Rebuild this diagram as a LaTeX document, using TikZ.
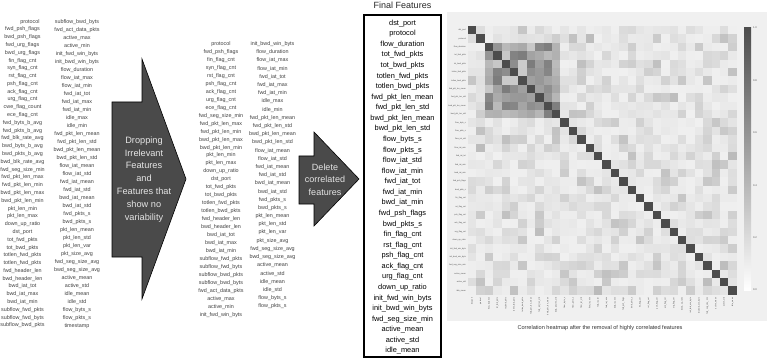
\documentclass[tikz,border=0pt]{standalone}
\usepackage{fontspec}
\setmainfont{Liberation Sans}

\tikzset{
  feat/.style={font=\fontsize{5.4}{6}\selectfont, text=black!75, inner sep=0pt},
  final/.style={font=\fontsize{7.4}{8}\selectfont, inner sep=0pt},
  arrowtxt/.style={font=\fontsize{9.2}{12.9}\selectfont, text=black!10, align=center, inner sep=0pt},
  bigarrow/.style={fill=black!71, draw=black, line width=0.6pt},
  hmlab/.style={font=\fontsize{2}{2.2}\selectfont, inner sep=0pt, text=black!70},
}

\def\finallist{dst\_port,protocol,flow\_duration,tot\_fwd\_pkts,tot\_bwd\_pkts,totlen\_fwd\_pkts,totlen\_bwd\_pkts,fwd\_pkt\_len\_mean,fwd\_pkt\_len\_std,bwd\_pkt\_len\_mean,bwd\_pkt\_len\_std,flow\_byts\_s,flow\_pkts\_s,flow\_iat\_std,flow\_iat\_min,fwd\_iat\_tot,fwd\_iat\_min,bwd\_iat\_min,fwd\_psh\_flags,bwd\_pkts\_s,fin\_flag\_cnt,rst\_flag\_cnt,psh\_flag\_cnt,ack\_flag\_cnt,urg\_flag\_cnt,down\_up\_ratio,init\_fwd\_win\_byts,init\_bwd\_win\_byts,fwd\_seg\_size\_min,active\_mean,active\_std,idle\_mean}

\begin{document}
\begin{tikzpicture}[x=1pt,y=-1pt]
\useasboundingbox (0,0) rectangle (767,358);

%all features
\node[feat] (a1) at (30,21.7) {protocol};
\foreach \n [count=\k from 2] in {fwd\_psh\_flags,bwd\_psh\_flags,fwd\_urg\_flags,bwd\_urg\_flags,fin\_flag\_cnt,syn\_flag\_cnt,rst\_flag\_cnt,psh\_flag\_cnt,ack\_flag\_cnt,urg\_flag\_cnt,cwe\_flag\_count,ece\_flag\_cnt,fwd\_byts\_b\_avg,fwd\_pkts\_b\_avg,fwd\_blk\_rate\_avg,bwd\_byts\_b\_avg,bwd\_pkts\_b\_avg,bwd\_blk\_rate\_avg,fwd\_seg\_size\_min,fwd\_pkt\_len\_max,fwd\_pkt\_len\_min,bwd\_pkt\_len\_max,bwd\_pkt\_len\_min,pkt\_len\_min,pkt\_len\_max,down\_up\_ratio,dst\_port,tot\_fwd\_pkts,tot\_bwd\_pkts,totlen\_fwd\_pkts,totlen\_fwd\_pkts,fwd\_header\_len,bwd\_header\_len,bwd\_iat\_tot,bwd\_iat\_max,bwd\_iat\_min,subflow\_fwd\_pkts,subflow\_fwd\_byts,subflow\_bwd\_pkts}
  \node[feat] (a\k) at (22.5,{21.7+(\k-1)*7.79}) {\n};
\foreach \n [count=\k] in {subflow\_bwd\_byts,fwd\_act\_data\_pkts,active\_max,active\_min,init\_fwd\_win\_byts,init\_bwd\_win\_byts,flow\_duration,flow\_iat\_max,flow\_iat\_min,fwd\_iat\_tot,fwd\_iat\_max,fwd\_iat\_min,idle\_max,idle\_min,fwd\_pkt\_len\_mean,fwd\_pkt\_len\_std,bwd\_pkt\_len\_mean,bwd\_pkt\_len\_std,flow\_iat\_mean,flow\_iat\_std,fwd\_iat\_mean,fwd\_iat\_std,bwd\_iat\_mean,bwd\_iat\_std,fwd\_pkts\_s,bwd\_pkts\_s,pkt\_len\_mean,pkt\_len\_std,pkt\_len\_var,pkt\_size\_avg,fwd\_seg\_size\_avg,bwd\_seg\_size\_avg,active\_mean,active\_std,idle\_mean,idle\_std,flow\_byts\_s,flow\_pkts\_s,timestamp}
  \node[feat] (b\k) at (77,{21.7+(\k-1)*8.0}) {\n};

%first arrow
\filldraw[bigarrow] (112,102) -- (142,102) -- (142,59) -- (186,179) -- (142,299) -- (142,257) -- (112,257) -- cycle;
\node[arrowtxt] (drop) at (144,179.5) {Dropping\\Irrelevant\\Features\\and\\Features that\\show no\\variability};

%kept features
\foreach \n [count=\k] in {protocol,fwd\_psh\_flags,fin\_flag\_cnt,syn\_flag\_cnt,rst\_flag\_cnt,psh\_flag\_cnt,ack\_flag\_cnt,urg\_flag\_cnt,ece\_flag\_cnt,fwd\_seg\_size\_min,fwd\_pkt\_len\_max,fwd\_pkt\_len\_min,bwd\_pkt\_len\_max,bwd\_pkt\_len\_min,pkt\_len\_min,pkt\_len\_max,down\_up\_ratio,dst\_port,tot\_fwd\_pkts,tot\_bwd\_pkts,totlen\_fwd\_pkts,totlen\_bwd\_pkts,fwd\_header\_len,bwd\_header\_len,bwd\_iat\_tot,bwd\_iat\_max,bwd\_iat\_min,subflow\_fwd\_pkts,subflow\_fwd\_byts,subflow\_bwd\_pkts,subflow\_bwd\_byts,fwd\_act\_data\_pkts,active\_max,active\_min,init\_fwd\_win\_byts}
  \node[feat] (c\k) at (221,{44+(\k-1)*7.97}) {\n};
\foreach \n [count=\k] in {init\_bwd\_win\_byts,flow\_duration,flow\_iat\_max,flow\_iat\_min,fwd\_iat\_tot,fwd\_iat\_max,fwd\_iat\_min,idle\_max,idle\_min,fwd\_pkt\_len\_mean,fwd\_pkt\_len\_std,bwd\_pkt\_len\_mean,bwd\_pkt\_len\_std,flow\_iat\_mean,flow\_iat\_std,fwd\_iat\_mean,fwd\_iat\_std,bwd\_iat\_mean,bwd\_iat\_std,fwd\_pkts\_s,bwd\_pkts\_s,pkt\_len\_mean,pkt\_len\_std,pkt\_len\_var,pkt\_size\_avg,fwd\_seg\_size\_avg,bwd\_seg\_size\_avg,active\_mean,active\_std,idle\_mean,idle\_std,flow\_byts\_s,flow\_pkts\_s}
  \node[feat] (d\k) at (272.5,{44+(\k-1)*8.2}) {\n};

%second arrow
\filldraw[bigarrow] (299,156) -- (314,156) -- (314,132) -- (359,179) -- (314,226) -- (314,204) -- (299,204) -- cycle;
\node[arrowtxt, font=\fontsize{9}{12.4}\selectfont] (del) at (325,179.5) {Delete\\correlated\\features};

%final features
\node[font=\fontsize{9}{10}\selectfont, text=black!85, inner sep=0pt] (title) at (402.5,5.5) {Final Features};
\draw[line width=1.5pt] (364,15) rectangle (441,357);
\foreach \f [count=\k] in \finallist
  \node[final] (f\k) at (402.5,{23.3+(\k-1)*10.57}) {\f};

%heatmap
\fill[black!6] (447,12) rectangle (767,321);
\pgfmathsetseed{11}
\foreach \i in {1,...,31}{
  \pgfmathtruncatemacro{\jst}{\i+1}
  \foreach \j in {\jst,...,32}{
    \pgfmathsetmacro{\v}{and(\i>2,\j<12) ? 20+32*rnd : 6+22*rnd*rnd}
    \fill[black!\v] ({468+(\j-1)*8.4},{26+(\i-1)*8.4}) rectangle ++(8.45,8.45);
    \fill[black!\v] ({468+(\i-1)*8.4},{26+(\j-1)*8.4}) rectangle ++(8.45,8.45);
  }
}
\foreach \i in {1,...,32}
  \fill[black!70] ({468+(\i-1)*8.4},{26+(\i-1)*8.4}) rectangle ++(8.45,8.45);%diagonal
%labels
\foreach \f [count=\k] in \finallist{
  \node[hmlab, anchor=east] (r\k) at (466,{26+(\k-0.5)*8.4}) {\f};
  \node[hmlab, anchor=east, rotate=90] (q\k) at ({468+(\k-0.5)*8.4},297.5) {\f};
}
%colorbar
\shade[top color=black!70, bottom color=white] (744,28) rectangle (751,290);
\foreach \t [count=\k from 0] in {1.0,0.8,0.6,0.4,0.2,0.0}
  \node[hmlab, font=\fontsize{2.6}{3}\selectfont, anchor=west] (t\k) at (753,{28+\k*52.4}) {\t};
\node[font=\fontsize{5.6}{6}\selectfont, text=black!80, inner sep=0pt] (cap) at (600,328) {Correlation heatmap after the removal of highly correlated features};

\end{tikzpicture}
\end{document}
